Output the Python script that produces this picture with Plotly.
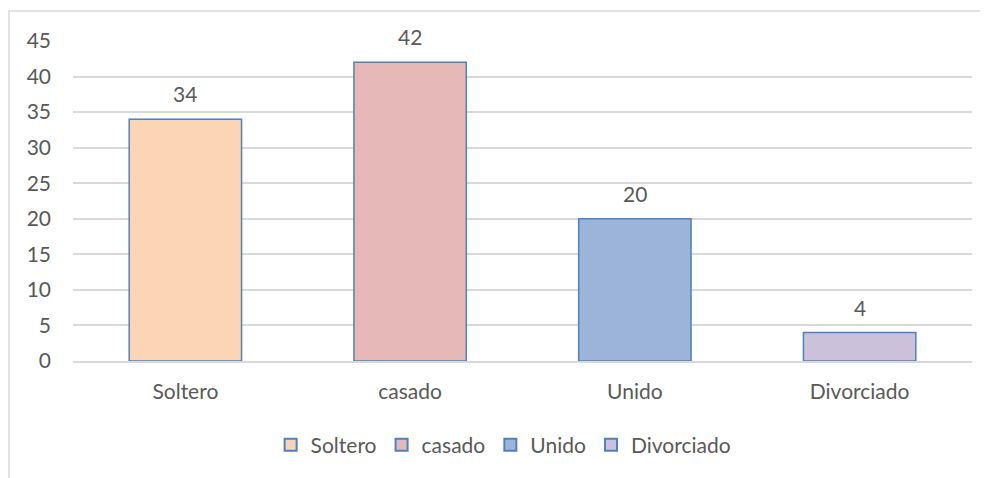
import plotly.graph_objects as go

categories = ["Soltero", "casado", "Unido", "Divorciado"]
values = [34, 42, 20, 4]
fill_colors = ["#FBD5B5", "#E6B9B8", "#9DB4DA", "#CCC1DA"]
y_ticks = [0, 5, 10, 15, 20, 25, 30, 35, 40, 45]

FONT = "Lato"
TXT = "#595959"
FS = 21

fig = go.Figure()
for cat, val, col in zip(categories, values, fill_colors):
    fig.add_trace(go.Bar(
        x=[cat], y=[val], name=cat, width=0.5,
        marker=dict(color=col, line=dict(color="#4F81BD", width=1.5)),
        showlegend=True,
    ))

for cat, val in zip(categories, values):
    fig.add_annotation(x=cat, y=val, text=str(val), showarrow=False,
                       yanchor="bottom", yshift=11,
                       font=dict(family=FONT, size=FS, color=TXT))

fig.add_shape(type="rect", xref="paper", yref="paper",
              x0=(9 - 73) / 899, x1=1.2, y0=-0.5, y1=(361 - 11) / 320,
              line=dict(color="#D9D9D9", width=1.5), fillcolor="rgba(0,0,0,0)",
              layer="below")

fig.update_layout(
    width=980, height=470,
    margin=dict(l=65, r=16, t=33, b=117),
    paper_bgcolor="white", plot_bgcolor="white",
    barmode="overlay",
    font=dict(family=FONT, size=FS, color=TXT),
    xaxis=dict(showgrid=False, showline=True, linecolor="#D9D9D9", linewidth=1.5,
               ticks="", ticklabelstandoff=11,
               tickfont=dict(family=FONT, size=FS, color=TXT),
               categoryorder="array", categoryarray=categories),
    yaxis=dict(range=[0, 45], tickvals=y_ticks, showgrid=True,
               gridcolor="#D9D9D9", gridwidth=1.5, zeroline=False,
               showline=False, ticks="", ticklabelstandoff=21,
               tickfont=dict(family=FONT, size=FS, color=TXT)),
    legend=dict(orientation="h", x=0.479, xanchor="center", y=-0.2625,
                yanchor="middle", font=dict(family=FONT, size=FS, color=TXT),
                itemsizing="constant", traceorder="normal",
                itemwidth=30, tracegroupgap=0),
)

fig.write_html("out.html")
